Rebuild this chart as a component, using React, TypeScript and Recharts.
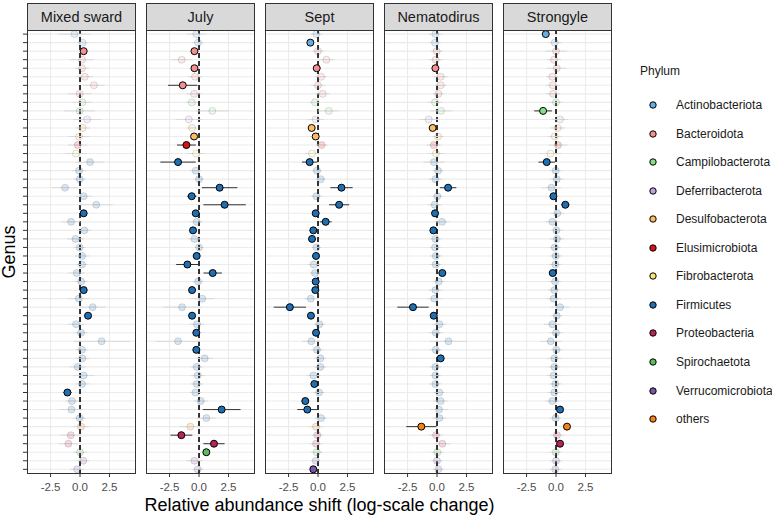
import React from "react";
import { ScatterChart, Scatter, XAxis, YAxis, CartesianGrid, ReferenceLine, ErrorBar } from "recharts";

const phyla = [
  "Actinobacteriota", "Bacteroidota", "Campilobacterota", "Deferribacterota",
  "Desulfobacterota", "Elusimicrobiota", "Fibrobacterota", "Firmicutes",
  "Proteobacteria", "Spirochaetota", "Verrucomicrobiota", "others",
];
const phylumColors = [
  "#66AEE0", "#F4908E", "#86E08A", "#C2A5D8", "#FDBB62", "#D7131A",
  "#F7E472", "#1F6FB5", "#B8235A", "#5DBB63", "#7B55A8", "#F58214",
];

// phylum of each genus row, top to bottom
const rowPhylum = [
  "Actinobacteriota", "Actinobacteriota",
  "Bacteroidota", "Bacteroidota", "Bacteroidota", "Bacteroidota", "Bacteroidota", "Bacteroidota",
  "Campilobacterota", "Campilobacterota",
  "Deferribacterota",
  "Desulfobacterota", "Desulfobacterota",
  "Elusimicrobiota",
  "Fibrobacterota",
  "Firmicutes", "Firmicutes", "Firmicutes", "Firmicutes", "Firmicutes", "Firmicutes", "Firmicutes",
  "Firmicutes", "Firmicutes", "Firmicutes", "Firmicutes", "Firmicutes", "Firmicutes", "Firmicutes",
  "Firmicutes", "Firmicutes", "Firmicutes", "Firmicutes", "Firmicutes", "Firmicutes", "Firmicutes",
  "Firmicutes", "Firmicutes", "Firmicutes", "Firmicutes", "Firmicutes", "Firmicutes", "Firmicutes",
  "Firmicutes", "Firmicutes", "Firmicutes",
  "others",
  "Proteobacteria", "Proteobacteria",
  "Spirochaetota",
  "Verrucomicrobiota", "Verrucomicrobiota",
];

const facets = ["Mixed sward", "July", "Sept", "Nematodirus", "Strongyle"];

const mixedSward = [-0.48, 0.22, 0.31, 0.17, 0.17, 0.4, 1.18, -0.03, 0.2, -0.03, 0.6, 0.22, -0.08, -0.2, -0.34, 0.85, -0.08, -0.03, -1.27, 0.31, 1.38, 0.31, -0.76, 0.37, -0.39, -0.03, 0.17, 0.17, -0.28, 0.1, 0.31, -0.11, 1.07, 0.68, -0.34, 0.08, 1.83, 0.17, 0.2, -0.2, 0.31, 0.17, -1.07, -0.68, -0.73, -0.03, 0.08, -0.79, -0.99, 0.0, 0.28, -0.25];
const mixedErr = [1.35, 0.5, 0.15, 1.0, 0.6, 0.7, 0.9, 1.0, 0.8, 1.3, 1.2, 0.6, 0.9, 0.8, 0.9, 1.2, 0.6, 0.5, 1.1, 0.7, 1.4, 0.15, 0.8, 0.6, 0.7, 0.5, 0.6, 0.5, 0.7, 0.6, 0.15, 0.9, 1.1, 0.2, 0.7, 0.6, 2.4, 0.5, 0.6, 0.7, 0.9, 0.6, 0.35, 0.6, 1.0, 0.5, 0.7, 0.9, 0.8, 0.6, 0.5, 0.6];
const mixedSig = [2, 21, 30, 33, 42];

const july = [-0.23, -0.08, -0.39, -1.47, -0.39, -0.34, -1.38, -0.42, -0.62, 1.13, -0.87, -0.59, -0.42, -1.07, -0.25, -1.78, -0.28, 0.0, 1.75, -0.62, 2.17, -0.28, -0.2, -0.51, -0.39, 0.0, -0.2, -0.99, 1.16, -0.08, -0.59, 0.28, -1.44, -0.59, -0.17, -0.23, -1.78, -0.23, 0.48, -0.2, -0.11, -0.2, -0.31, 0.14, 1.92, 0.62, -0.73, -1.5, 1.27, 0.62, -0.39, -0.11];
const julyErr = [0.8, 0.5, 0.15, 0.9, 0.15, 0.6, 1.25, 0.6, 0.5, 1.4, 1.1, 0.4, 0.15, 0.8, 0.7, 1.5, 0.5, 0.4, 1.5, 0.4, 1.8, 0.15, 0.5, 0.2, 0.5, 0.4, 0.15, 0.95, 0.78, 0.5, 0.15, 1.0, 1.6, 0.15, 0.6, 0.15, 1.9, 0.15, 0.7, 0.5, 0.6, 0.5, 0.5, 0.6, 1.6, 0.8, 0.9, 0.93, 0.9, 0.2, 0.7, 0.5];
const julySig = [2, 4, 6, 12, 13, 15, 18, 19, 20, 21, 23, 26, 27, 28, 30, 33, 35, 37, 44, 47, 48, 49];

const sept = [-0.14, -0.65, 0.0, 0.71, -0.11, 0.26, 0.0, 0.4, -0.26, 0.91, -0.2, -0.54, -0.2, 0.31, -0.51, -0.71, -0.09, 0.23, 1.99, -0.14, 1.79, -0.2, 0.65, -0.4, -0.51, -0.14, -0.17, -0.37, -0.26, -0.2, -0.23, -0.62, -2.39, -0.6, 0.11, -0.17, -0.57, -0.09, 0.2, 0.2, -0.4, -0.31, 0.09, -1.08, -0.91, 0.26, -0.17, -0.06, -0.17, -0.11, -0.2, -0.4];
const septErr = [0.5, 0.15, 0.5, 0.7, 0.15, 0.5, 0.6, 0.6, 0.4, 0.9, 0.7, 0.2, 0.2, 0.5, 0.6, 0.65, 0.4, 0.4, 0.95, 0.5, 0.85, 0.15, 0.5, 0.3, 0.2, 0.4, 0.15, 0.5, 0.4, 0.15, 0.15, 0.6, 1.37, 0.2, 0.5, 0.15, 0.8, 0.5, 0.5, 0.5, 0.6, 0.15, 0.5, 0.3, 0.85, 0.5, 0.6, 0.5, 0.5, 0.5, 0.4, 0.2];
const septSig = [1, 4, 11, 12, 15, 18, 20, 21, 22, 23, 24, 26, 29, 30, 32, 33, 35, 41, 43, 44, 51];

const nematodirus = [-0.14, -0.17, -0.03, -0.11, -0.14, 0.31, 0.31, 0.11, -0.17, 0.34, -0.71, -0.37, 0.09, -0.28, -0.09, -0.26, 0.09, -0.14, 0.94, 0.03, -0.2, -0.17, 0.43, -0.31, -0.14, -0.17, -0.11, -0.11, 0.45, 0.14, -0.14, -0.23, -2.04, -0.28, 0.2, -0.11, 0.97, -0.11, 0.31, -0.14, -0.14, -0.14, 0.2, 0.31, 0.17, 0.2, -1.33, -0.09, 0.45, 0.03, 0.0, 0.11];
const nematodirusErr = [0.6, 0.5, 0.5, 0.6, 0.1, 0.6, 0.5, 0.5, 0.6, 0.9, 0.8, 0.2, 0.5, 0.6, 0.7, 0.9, 0.5, 0.6, 0.7, 0.5, 0.6, 0.15, 0.6, 0.15, 0.5, 0.5, 0.5, 0.5, 0.3, 0.5, 0.6, 0.6, 1.33, 0.15, 0.6, 0.6, 1.6, 0.5, 0.15, 0.5, 0.5, 0.5, 0.5, 0.6, 0.8, 0.6, 1.28, 0.6, 0.7, 0.5, 0.5, 0.5];
const nematodirusSig = [4, 11, 18, 21, 23, 28, 32, 33, 38, 46];

const strongyle = [-0.87, -0.11, 0.0, -0.17, 0.06, -0.31, -0.28, -0.25, 0.0, -1.1, 0.34, 0.14, -0.11, 0.17, -0.48, -0.79, -0.03, 0.06, -0.39, -0.22, 0.79, 0.11, -0.31, 0.03, 0.08, -0.11, -0.03, -0.06, -0.28, -0.08, -0.14, -0.2, 0.34, 0.06, -0.31, 0.0, -0.45, 0.03, -0.14, -0.14, -0.2, -0.06, -0.14, -0.31, 0.34, -0.03, 0.93, 0.08, 0.34, -0.03, 0.0, -0.06];
const strongyleErr = [0.2, 0.6, 0.9, 0.6, 0.8, 0.5, 0.6, 0.6, 0.6, 0.75, 0.7, 0.6, 0.6, 0.8, 0.9, 0.7, 0.5, 0.6, 0.8, 0.2, 0.35, 0.6, 0.6, 0.5, 0.6, 0.5, 0.5, 0.5, 0.2, 0.6, 0.5, 0.6, 0.8, 0.5, 0.7, 0.6, 0.9, 0.5, 0.6, 0.5, 0.6, 0.5, 0.6, 0.6, 0.2, 0.5, 0.2, 0.6, 0.2, 0.5, 0.5, 0.5];
const strongyleSig = [0, 9, 15, 19, 20, 28, 44, 46, 48];

const xTicks = [-2.5, 0, 2.5];

const facetValues = [mixedSward, july, sept, nematodirus, strongyle];
const facetErrs = [mixedErr, julyErr, septErr, nematodirusErr, strongyleErr];
const facetSigs = [mixedSig, julySig, septSig, nematodirusSig, strongyleSig];

const FONT = '"Liberation Sans", Arial, sans-serif';
const PANEL_W = 109;
const PANEL_TOP = 30;
const PANEL_H = 444;
const panelLeft = [27, 146, 265, 384, 503];
const rowTicks = rowPhylum.map((_, i) => i);

const colorOf = (p: string) => phylumColors[phyla.indexOf(p)];

const makeDot = (faded: boolean) => (props: any) => {
  const { cx, cy, payload } = props;
  if (cx == null || cy == null) return null;
  return (
    <circle
      cx={cx}
      cy={cy}
      r={3.5}
      fill={colorOf(payload.phylum)}
      fillOpacity={faded ? 0.17 : 1}
      stroke="#000"
      strokeOpacity={faded ? 0.13 : 1}
      strokeWidth={1}
    />
  );
};

function Facet({ idx }: { idx: number }) {
  const values = facetValues[idx];
  const data = values.map((x, i) => ({
    row: i,
    x,
    err: facetErrs[idx][i],
    phylum: rowPhylum[i],
    sig: facetSigs[idx].includes(i),
  }));
  const faded = data.filter((d) => !d.sig);
  const solid = data.filter((d) => d.sig);
  const first = idx === 0;
  const yW = first ? 8 : 0;
  const left = panelLeft[idx];

  return (
    <>
      <div
        style={{
          position: "absolute", left, top: 3, width: PANEL_W, height: 28,
          boxSizing: "border-box", background: "#D9D9D9", border: "1px solid #333",
          fontSize: 14.5, color: "#1A1A1A", textAlign: "center", lineHeight: "26px",
        }}
      >
        {facets[idx]}
      </div>
      <div style={{ position: "absolute", left: left - yW, top: PANEL_TOP }}>
        <ScatterChart width={PANEL_W + yW} height={PANEL_H + 22} margin={{ top: 0, right: 0, bottom: 0, left: 0 }}>
          <CartesianGrid horizontalValues={rowTicks} verticalValues={xTicks} stroke="#EBEBEB" strokeWidth={1.1} />
          <XAxis
            type="number" dataKey="x" domain={[-4.5, 4.75]} ticks={xTicks} allowDataOverflow
            tickFormatter={(v: number) => v.toFixed(1)} height={22} tickSize={3} tickMargin={6}
            axisLine={false} tickLine={{ stroke: "#333" }}
            tick={{ fontSize: 11.5, fill: "#4D4D4D", fontFamily: FONT }}
          />
          <YAxis
            type="number" dataKey="row" domain={[-0.48, 51.55]} reversed ticks={rowTicks} interval={0}
            width={yW} hide={!first} tickSize={4} tickFormatter={() => ""} axisLine={false}
            tickLine={{ stroke: "#333" }}
          />
          <ReferenceLine x={0} stroke="#2B2B2B" strokeWidth={1.9} strokeDasharray="5 3" />
          <Scatter data={faded} shape={makeDot(true)} isAnimationActive={false}>
            <ErrorBar dataKey="err" direction="x" width={0} stroke="#DADADA" strokeWidth={1} />
          </Scatter>
          <Scatter data={solid} shape={makeDot(false)} isAnimationActive={false}>
            <ErrorBar dataKey="err" direction="x" width={0} stroke="#333" strokeWidth={1} />
          </Scatter>
        </ScatterChart>
      </div>
      <div
        style={{
          position: "absolute", left, top: PANEL_TOP, width: PANEL_W, height: PANEL_H,
          boxSizing: "border-box", border: "1px solid #333", pointerEvents: "none",
        }}
      />
    </>
  );
}

export default function App() {
  return (
    <div
      style={{
        position: "absolute", left: 0, top: 0, width: 772, height: 517,
        background: "#fff", fontFamily: FONT, overflow: "hidden",
      }}
    >
      {facets.map((_, i) => (
        <Facet key={i} idx={i} />
      ))}
      <div
        style={{
          position: "absolute", left: 27, top: 494, width: 585, textAlign: "center",
          fontSize: 18, lineHeight: "22px", color: "#000",
        }}
      >
        Relative abundance shift (log-scale change)
      </div>
      <div
        style={{
          position: "absolute", left: 9, top: 252, transform: "translate(-50%, -50%) rotate(-90deg)",
          fontSize: 18, lineHeight: "22px", color: "#000", whiteSpace: "nowrap",
        }}
      >
        Genus
      </div>
      <div style={{ position: "absolute", left: 640, top: 64, fontSize: 12, color: "#1A1A1A" }}>Phylum</div>
      {phyla.map((p, k) => (
        <div
          key={p}
          style={{
            position: "absolute", left: 646, top: 105 + k * 28.55 - 8, height: 16,
            display: "flex", alignItems: "center", fontSize: 12, color: "#1A1A1A",
          }}
        >
          <svg width={14} height={16} style={{ marginRight: 16 }}>
            <circle cx={7} cy={8} r={3.2} fill={phylumColors[k]} stroke="#000" strokeWidth={1} />
          </svg>
          {p}
        </div>
      ))}
    </div>
  );
}
